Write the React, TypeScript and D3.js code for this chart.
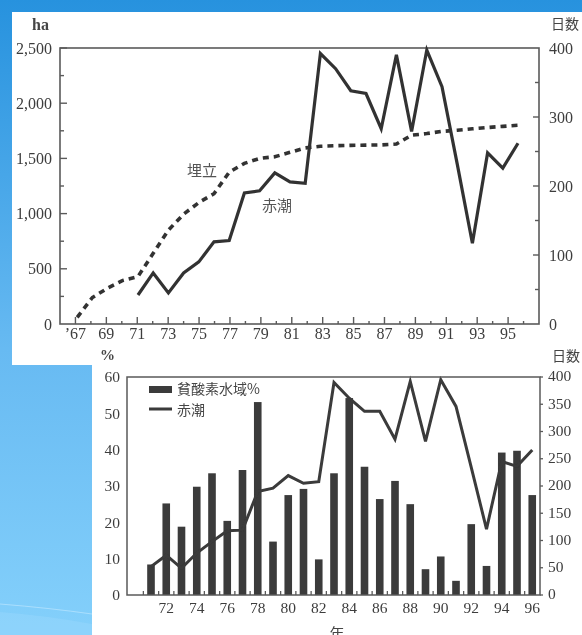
import React from "react";
import * as d3 from "d3";

// ---------- top chart data ----------
const reclaimYears = [67, 68, 69, 70, 71, 72, 73, 74, 75, 76, 77, 78, 79, 80, 81, 82, 83, 84, 85, 86, 87, 88, 89, 90, 91, 92, 93, 94, 95, 96];
const reclaimHa = [60, 240, 325, 395, 430, 640, 850, 995, 1100, 1180, 1375, 1455, 1500, 1515, 1555, 1595, 1610, 1615, 1618, 1620, 1622, 1630, 1710, 1725, 1745, 1755, 1768, 1780, 1790, 1800];
const tideYearsTop = [71, 72, 73, 74, 75, 76, 77, 78, 79, 80, 81, 82, 83, 84, 85, 86, 87, 88, 89, 90, 91, 92, 93, 94, 95, 96];
const tideDaysTop = [42, 74, 45, 74, 90, 119, 121, 190, 193, 219, 206, 204, 392, 370, 338, 334, 283, 390, 279, 397, 344, 232, 117, 248, 226, 262];
const topLeftTicks = [0, 500, 1000, 1500, 2000, 2500];
const topRightTicks = [0, 100, 200, 300, 400];
const topYearLabels = [67, 69, 71, 73, 75, 77, 79, 81, 83, 85, 87, 89, 91, 93, 95];

// ---------- bottom chart data ----------
const barYears = [71, 72, 73, 74, 75, 76, 77, 78, 79, 80, 81, 82, 83, 84, 85, 86, 87, 88, 89, 90, 91, 92, 93, 94, 95, 96];
const hypoxicPct = [8.4, 25.2, 18.8, 29.8, 33.5, 20.4, 34.4, 53.1, 14.7, 27.5, 29.2, 9.8, 33.5, 54.2, 35.3, 26.4, 31.4, 25.0, 7.1, 10.6, 3.9, 19.5, 8.0, 39.2, 39.7, 27.5];
const tideDaysBottom = [52, 73, 49, 77, 98, 118, 119, 190, 196, 219, 205, 208, 390, 361, 337, 337, 286, 392, 282, 395, 346, 234, 121, 245, 236, 266];
const botLeftTicks = [0, 10, 20, 30, 40, 50, 60];
const botRightTicks = [0, 50, 100, 150, 200, 250, 300, 350, 400];
const botYearLabels = [72, 74, 76, 78, 80, 82, 84, 86, 88, 90, 92, 94, 96];

const SERIF = "'Liberation Serif','DejaVu Serif',serif";
const CJK = "'Noto Sans CJK JP','Noto Sans CJK SC',sans-serif";
const INK = "#333";
const AXIS = "#5a5a5a";
const TXT = "#3d3d3d";

export default function App() {
  // top scales
  const txAxis = d3.scaleLinear().domain([66, 97]).range([60, 539]);
  const txData = d3.scaleLinear().domain([71, 96]).range([138, 518]);
  const tyL = d3.scaleLinear().domain([0, 2500]).range([324, 48]);
  const tyR = d3.scaleLinear().domain([0, 400]).range([324, 48]);

  const reclaimLine = d3
    .line<number>()
    .x((_, i) => txData(reclaimYears[i]))
    .y((d) => tyL(d));
  const tideTopLine = d3
    .line<number>()
    .x((_, i) => txData(tideYearsTop[i]))
    .y((d) => tyR(d));

  const leftMinor = d3.range(250, 2500, 500);
  const rightMinor = d3.range(50, 400, 100);
  const evenYears = d3.range(68, 97, 2);

  // bottom scales
  const bx = d3.scaleLinear().domain([71, 96]).range([151, 532.25]);
  const byL = d3.scaleLinear().domain([0, 60]).range([595, 377]);
  const byR = d3.scaleLinear().domain([0, 400]).range([595, 377]);
  const barW = 7.6;
  const tideBotLine = d3
    .line<number>()
    .x((_, i) => bx(barYears[i]))
    .y((d) => byR(d));
  const halfYears = d3.range(70.5, 96, 1);

  return (
    <div style={{ position: "absolute", left: 0, top: 0, width: 582, height: 635, overflow: "hidden" }}>
      <svg width={582} height={635} style={{ display: "block" }}>
        <defs>
          <linearGradient id="bg" x1="0" y1="0" x2="0" y2="1">
            <stop offset="0" stopColor="#2792de" />
            <stop offset="0.55" stopColor="#67baf2" />
            <stop offset="1" stopColor="#84d0fb" />
          </linearGradient>
          <filter id="soft" x="-5%" y="-5%" width="110%" height="110%">
            <feGaussianBlur stdDeviation="0.45" />
          </filter>
        </defs>
        <rect x={0} y={0} width={582} height={635} fill="url(#bg)" />
        <path d="M0,604 Q50,608 92,614" stroke="#c4e9ff" strokeWidth={1} fill="none" opacity={0.6} />
        <path d="M0,612 Q50,616 92,624 L92,635 L0,635 Z" fill="#9ad7fc" opacity={0.45} />
        <rect x={12} y={12} width={570} height={353} fill="#fff" />
        <rect x={92} y={364} width={490} height={271} fill="#fff" />

        <g filter="url(#soft)">
          {/* ===== TOP CHART ===== */}
          <rect x={60} y={48} width={479} height={276} fill="none" stroke={AXIS} strokeWidth={1.6} />
          {topLeftTicks.map((t) => (
            <g key={"tl" + t}>
              {t > 0 && <line x1={60} x2={67} y1={tyL(t)} y2={tyL(t)} stroke={AXIS} strokeWidth={1.4} />}
              <text x={52} y={tyL(t)} dy="0.35em" textAnchor="end" fontFamily={SERIF} fontSize={16} fill={TXT}>
                {d3.format(",")(t)}
              </text>
            </g>
          ))}
          {leftMinor.map((t) => (
            <line key={"tlm" + t} x1={60} x2={64} y1={tyL(t)} y2={tyL(t)} stroke={AXIS} strokeWidth={1.4} />
          ))}
          {topRightTicks.map((t) => (
            <g key={"tr" + t}>
              {t > 0 && t < 400 && <line x1={539} x2={533} y1={tyR(t)} y2={tyR(t)} stroke={AXIS} strokeWidth={1.4} />}
              <text x={549} y={tyR(t)} dy="0.35em" textAnchor="start" fontFamily={SERIF} fontSize={16} fill={TXT}>
                {t}
              </text>
            </g>
          ))}
          {rightMinor.map((t) => (
            <line key={"trm" + t} x1={539} x2={535} y1={tyR(t)} y2={tyR(t)} stroke={AXIS} strokeWidth={1.4} />
          ))}
          {topYearLabels.map((y) => (
            <g key={"tx" + y}>
              <line x1={txAxis(y)} x2={txAxis(y)} y1={324} y2={317} stroke={AXIS} strokeWidth={1.4} />
              <text x={txAxis(y)} y={339} textAnchor="middle" fontFamily={SERIF} fontSize={16} fill={TXT}>
                {y === 67 ? "\u201967" : String(y)}
              </text>
            </g>
          ))}
          {evenYears.map((y) => (
            <line key={"txm" + y} x1={txAxis(y)} x2={txAxis(y)} y1={324} y2={321} stroke={AXIS} strokeWidth={1.4} />
          ))}
          <text x={32} y={30} fontFamily={SERIF} fontSize={16} fontWeight="bold" fill="#444">ha</text>
          <text x={551} y={29} fontFamily={CJK} fontSize={14} fill="#444">日数</text>

          <path d={reclaimLine(reclaimHa) || ""} fill="none" stroke={INK} strokeWidth={3.6} strokeDasharray="6,5" />
          <path d={tideTopLine(tideDaysTop) || ""} fill="none" stroke={INK} strokeWidth={3.2} strokeLinejoin="miter" />
          <text x={187} y={176} fontFamily={CJK} fontSize={15} fill="#555">埋立</text>
          <text x={262} y={211} fontFamily={CJK} fontSize={15} fill="#555">赤潮</text>

          {/* ===== BOTTOM CHART ===== */}
          {barYears.map((y, i) => (
            <rect
              key={"b" + y}
              x={bx(y) - barW / 2}
              y={byL(hypoxicPct[i])}
              width={barW}
              height={595 - byL(hypoxicPct[i])}
              fill="#3a3a3a"
            />
          ))}
          <path d={tideBotLine(tideDaysBottom) || ""} fill="none" stroke="#3a3a3a" strokeWidth={3} />
          <rect x={127} y={377} width={413} height={218} fill="none" stroke={AXIS} strokeWidth={1.5} />
          {botLeftTicks.map((t) => (
            <text key={"bl" + t} x={120} y={byL(t)} dy="0.35em" textAnchor="end" fontFamily={SERIF} fontSize={15.5} fill={TXT}>
              {t}
            </text>
          ))}
          {botRightTicks.map((t) => (
            <g key={"br" + t}>
              <line x1={540} x2={543} y1={byR(t)} y2={byR(t)} stroke={AXIS} strokeWidth={1.3} />
              <text x={548} y={byR(t) - 1} dy="0.35em" textAnchor="start" fontFamily={SERIF} fontSize={15.5} fill={TXT}>
                {t}
              </text>
            </g>
          ))}
          {halfYears.map((y) => (
            <line key={"bh" + y} x1={bx(y)} x2={bx(y)} y1={595} y2={591} stroke={AXIS} strokeWidth={1.3} />
          ))}
          {botYearLabels.map((y) => (
            <text key={"bx" + y} x={bx(y)} y={613} textAnchor="middle" fontFamily={SERIF} fontSize={15.5} fill={TXT}>
              {y}
            </text>
          ))}
          <text x={100} y={360} fontFamily={SERIF} fontSize={15} fontWeight="bold" fill="#444">%</text>
          <text x={552} y={361} fontFamily={CJK} fontSize={14} fill="#444">日数</text>
          <text x={337} y={639} textAnchor="middle" fontFamily={CJK} fontSize={15} fill="#444">年</text>

          {/* legend */}
          <rect x={149} y={386} width={23} height={7} fill="#3a3a3a" />
          <text x={177} y={394} fontFamily={CJK} fontSize={14} fill="#444">貧酸素水域%</text>
          <line x1={149} x2={172} y1={409} y2={409} stroke="#3a3a3a" strokeWidth={3} />
          <text x={177} y={415} fontFamily={CJK} fontSize={14} fill="#444">赤潮</text>
        </g>
      </svg>
    </div>
  );
}
